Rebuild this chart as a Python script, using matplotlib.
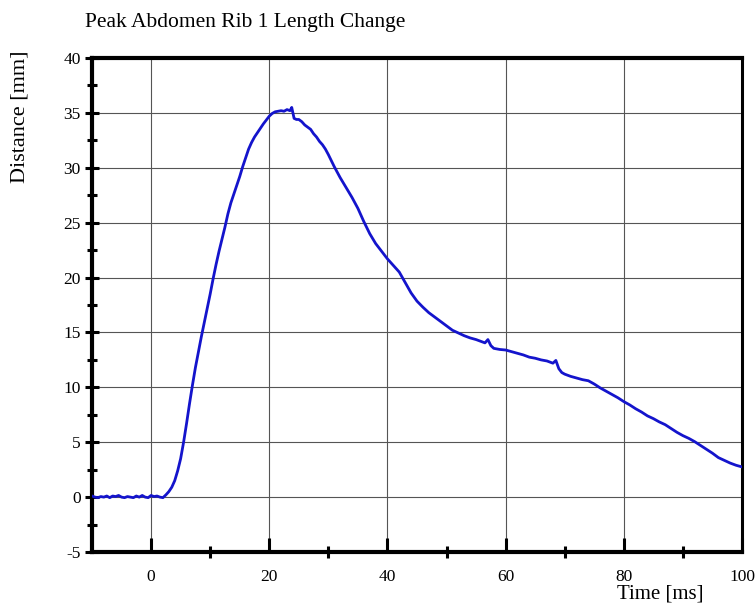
import numpy as np
import matplotlib
matplotlib.use('Agg')
import matplotlib.pyplot as plt
from matplotlib.ticker import MultipleLocator, FixedLocator

# 時間 [ms]
time_ms = [-10, -9.5, -9, -8.5, -8, -7.5, -7, -6.5, -6, -5.5, -5, -4.5, -4, -3.5,
           -3, -2.5, -2, -1.5, -1, -0.5, 0, 0.5, 1, 1.5, 2,
           2.5, 3, 3.5, 4, 4.5, 5, 5.5, 6, 6.5, 7, 7.5, 8, 8.5, 9, 9.5, 10,
           10.5, 11, 11.5, 12, 12.5, 13, 13.5, 14, 14.5, 15, 15.5, 16, 16.5,
           17, 17.5, 18, 18.5, 19, 19.5, 20, 20.5, 21, 21.5, 22, 22.5, 23,
           23.5, 23.8, 24.2, 24.6, 25, 25.5, 26, 26.5, 27, 27.5, 28, 28.5, 29,
           29.5, 30, 31, 32, 33, 34, 35, 36, 37, 38, 39, 40, 41, 42, 43, 44,
           45, 46, 47, 48, 49, 50, 51, 52, 53, 54, 55, 56, 56.5, 57, 57.5, 58,
           59, 60, 61, 62, 63, 64, 65, 66, 67, 68, 68.5, 69, 69.5, 70, 71, 72,
           73, 74, 75, 76, 77, 78, 79, 80, 81, 82, 83, 84, 85, 86, 87, 88, 89,
           90, 91, 92, 93, 94, 95, 96, 97, 98, 99, 100]

# 距離 [mm]
distance_mm = [0.1, 0.0, -0.05, 0.05, 0.0, 0.1, -0.05, 0.1, 0.05, 0.15, 0.0, -0.05,
               0.05, 0.0, -0.05, 0.1, 0.0, 0.15, 0.0, -0.05, 0.15, 0.05, 0.1, 0.0,
               -0.05,
               0.2, 0.5, 0.9, 1.5, 2.4, 3.5, 5.0, 6.7, 8.5, 10.2, 11.8, 13.2, 14.6,
               15.9, 17.2, 18.5, 19.9, 21.2, 22.4, 23.5, 24.6, 25.8, 26.8, 27.6,
               28.4, 29.2, 30.1, 30.9, 31.7, 32.3, 32.8, 33.2, 33.6, 34.0, 34.35,
               34.7, 34.95, 35.1, 35.15, 35.2, 35.15, 35.3, 35.2, 35.5, 34.5, 34.4,
               34.4, 34.2, 33.9, 33.7, 33.5, 33.1, 32.8, 32.4, 32.1, 31.7, 31.2,
               30.1, 29.1, 28.2, 27.3, 26.3, 25.1, 24.0, 23.1, 22.4, 21.7, 21.1,
               20.5, 19.55, 18.6, 17.85, 17.3, 16.8, 16.4, 16.0, 15.6, 15.2, 14.95,
               14.7, 14.5, 14.35, 14.15, 14.05, 14.35, 13.8, 13.55, 13.45, 13.4,
               13.25, 13.1, 12.95, 12.75, 12.65, 12.5, 12.4, 12.2, 12.45, 11.7,
               11.35, 11.2, 11.0, 10.85, 10.7, 10.6, 10.3, 9.95, 9.65, 9.35, 9.05,
               8.7, 8.4, 8.05, 7.75, 7.4, 7.15, 6.85, 6.6, 6.25, 5.9, 5.6, 5.35,
               5.05, 4.7, 4.35, 4.0, 3.6, 3.35, 3.1, 2.9, 2.75]

x_major = [0, 20, 40, 60, 80, 100]
x_minor = [10, 30, 50, 70, 90]

plt.rcParams['font.family'] = ['Liberation Serif', 'DejaVu Serif']
plt.rcParams['axes.unicode_minus'] = False

fig = plt.figure(figsize=(7.55, 6.04), dpi=100)
ax = fig.add_axes([92 / 755, 52 / 604, 650 / 755, 494 / 604])

ax.plot(time_ms, distance_mm, color='#1414cc', linewidth=2.0, zorder=3)

ax.set_xlim(-10, 100)
ax.set_ylim(-5, 40)

# 軸目盛
ax.xaxis.set_major_locator(FixedLocator(x_major))
ax.xaxis.set_minor_locator(FixedLocator(x_minor))
ax.yaxis.set_major_locator(MultipleLocator(5))
ax.yaxis.set_minor_locator(MultipleLocator(2.5))

ax.grid(True, which='major', color='#555555', linewidth=0.8)

ax.tick_params(axis='x', which='major', direction='in', length=10, width=2.2,
               labelsize=12.5, pad=12, top=False)
ax.tick_params(axis='x', which='minor', direction='inout', length=8, width=2.2,
               top=False)
ax.tick_params(axis='y', which='major', direction='inout', length=10, width=2.2,
               labelsize=12.5, pad=3, right=False)
ax.tick_params(axis='y', which='minor', direction='inout', length=7, width=2.2,
               right=False)

for side in ['left', 'bottom', 'top']:
    ax.spines[side].set_linewidth(3)
ax.spines['right'].set_linewidth(2.2)

# タイトル、軸ラベル
fig.text(85 / 755, 1 - 22 / 604, 'Peak Abdomen Rib 1 Length Change',
         fontsize=15.5, ha='left', va='center')
fig.text(20 / 755, 1 - 117 / 604, 'Distance [mm]', fontsize=16,
         rotation=90, ha='center', va='center')
fig.text(660 / 755, 1 - 594 / 604, 'Time [ms]', fontsize=15,
         ha='center', va='center')

plt.savefig('out.png', dpi=100)
plt.close('all')
